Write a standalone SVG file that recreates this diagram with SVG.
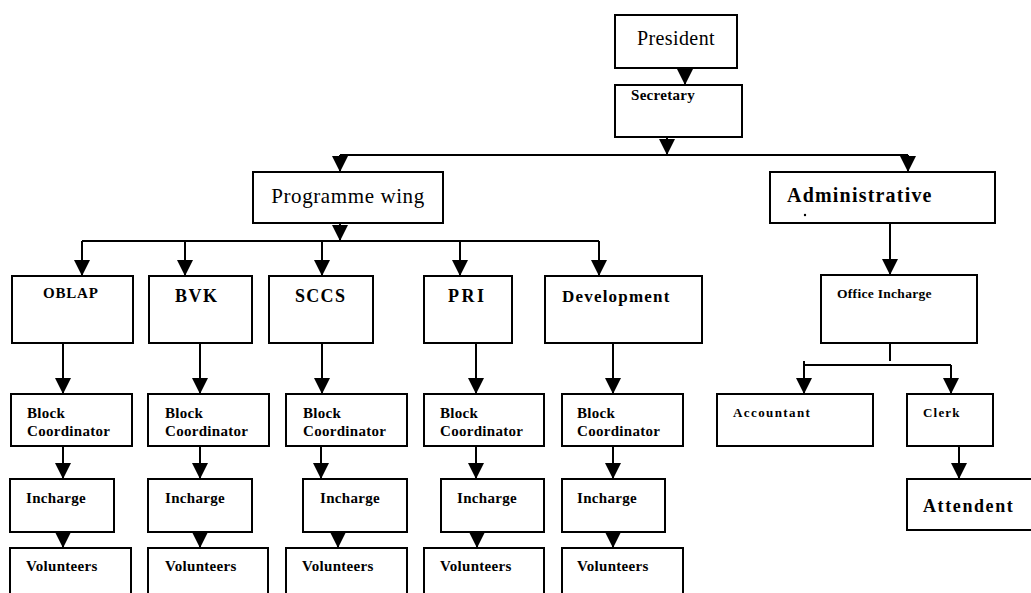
<svg xmlns="http://www.w3.org/2000/svg" width="1031" height="593" viewBox="0 0 1031 593">
<style>
.box{fill:#fff;stroke:#000;stroke-width:2}
.ln{fill:none;stroke:#000;stroke-width:2}
.ar{fill:none;stroke:#000;stroke-width:2;marker-end:url(#ah)}
.r{font-family:"Liberation Serif","Times New Roman",serif;fill:#000}
.b{font-family:"Liberation Serif","Times New Roman",serif;font-weight:bold;fill:#000;font-size:15px;letter-spacing:0.3px}
</style>
<defs>
<marker id="ah" markerUnits="userSpaceOnUse" markerWidth="17" markerHeight="17" refX="16" refY="8.5" orient="auto" viewBox="0 0 17 17">
<path d="M0,0.5 L16,8.5 L0,16.5 z" fill="#000"/>
</marker>
</defs>
<rect width="1031" height="593" fill="#fff"/>
<g id="connectors">
<path class="ar" d="M685,68 V85"/>
<path class="ar" d="M667,137 V155"/>
<path class="ln" d="M340,155 H908"/>
<path class="ar" d="M340,155 V172"/>
<path class="ar" d="M908,155 V172"/>
<path class="ar" d="M340,223 V241"/>
<path class="ln" d="M82,241 H599"/>
<path class="ar" d="M82,241 V276"/>
<path class="ar" d="M185,241 V276"/>
<path class="ar" d="M322,241 V276"/>
<path class="ar" d="M460,241 V276"/>
<path class="ar" d="M599,241 V276"/>
<path class="ar" d="M63,343 V394"/>
<path class="ar" d="M200,343 V394"/>
<path class="ar" d="M322,343 V394"/>
<path class="ar" d="M476,343 V394"/>
<path class="ar" d="M613,343 V394"/>
<path class="ar" d="M63,446 V479"/>
<path class="ar" d="M200,446 V479"/>
<path class="ar" d="M321,446 V479"/>
<path class="ar" d="M476,446 V479"/>
<path class="ar" d="M613,446 V479"/>
<path class="ar" d="M63,532 V548"/>
<path class="ar" d="M200,532 V548"/>
<path class="ar" d="M338,532 V548"/>
<path class="ar" d="M477,532 V548"/>
<path class="ar" d="M613,532 V548"/>
<path class="ar" d="M890,223 V275"/>
<path class="ln" d="M890,343 V361"/>
<path class="ln" d="M804,361 V365 H951"/>
<path class="ar" d="M804,365 V394"/>
<path class="ar" d="M951,365 V394"/>
<path class="ar" d="M959,446 V479"/>
</g>
<g id="president"><rect class="box" x="615" y="15" width="122" height="53"/><text class="r" x="676" y="45" style="font-size:20px;letter-spacing:0.4px" text-anchor="middle">President</text></g>
<g id="secretary"><rect class="box" x="615" y="85" width="127" height="52"/><text class="b" x="631" y="100">Secretary</text></g>
<g id="programme-wing"><rect class="box" x="253" y="172" width="190" height="51"/><text class="r" x="348" y="203" style="font-size:21px;letter-spacing:0.6px" text-anchor="middle">Programme wing</text></g>
<g id="administrative"><rect class="box" x="770" y="172" width="225" height="51"/><text class="b" x="787" y="202" style="font-size:20px;letter-spacing:1.2px">Administrative</text><circle cx="805" cy="215" r="1.2" fill="#000"/></g>
<g id="oblap"><rect class="box" x="12" y="276" width="121" height="67"/><text class="b" x="43" y="298" style="letter-spacing:0.8px">OBLAP</text></g>
<g id="bvk"><rect class="box" x="149" y="276" width="103" height="67"/><text class="b" x="175" y="302" style="font-size:18px;letter-spacing:1.5px">BVK</text></g>
<g id="sccs"><rect class="box" x="269" y="276" width="104" height="67"/><text class="b" x="295" y="302" style="font-size:18px;letter-spacing:1.3px">SCCS</text></g>
<g id="pri"><rect class="box" x="424" y="276" width="88" height="67"/><text class="b" x="448" y="302" style="font-size:18px;letter-spacing:2.5px">PRI</text></g>
<g id="development"><rect class="box" x="545" y="276" width="157" height="67"/><text class="b" x="562" y="302" style="font-size:17px;letter-spacing:1.2px">Development</text></g>
<g id="bc-oblap"><rect class="box" x="11" y="394" width="121" height="52"/><text class="b" x="27" y="418">Block</text><text class="b" x="27" y="436">Coordinator</text></g>
<g id="bc-bvk"><rect class="box" x="148" y="394" width="121" height="52"/><text class="b" x="165" y="418">Block</text><text class="b" x="165" y="436">Coordinator</text></g>
<g id="bc-sccs"><rect class="box" x="286" y="394" width="121" height="52"/><text class="b" x="303" y="418">Block</text><text class="b" x="303" y="436">Coordinator</text></g>
<g id="bc-pri"><rect class="box" x="424" y="394" width="120" height="52"/><text class="b" x="440" y="418">Block</text><text class="b" x="440" y="436">Coordinator</text></g>
<g id="bc-dev"><rect class="box" x="562" y="394" width="121" height="52"/><text class="b" x="577" y="418">Block</text><text class="b" x="577" y="436">Coordinator</text></g>
<g id="inc-oblap"><rect class="box" x="10" y="479" width="104" height="53"/><text class="b" x="26" y="503">Incharge</text></g>
<g id="inc-bvk"><rect class="box" x="148" y="479" width="104" height="53"/><text class="b" x="165" y="503">Incharge</text></g>
<g id="inc-sccs"><rect class="box" x="303" y="479" width="104" height="53"/><text class="b" x="320" y="503">Incharge</text></g>
<g id="inc-pri"><rect class="box" x="441" y="479" width="103" height="53"/><text class="b" x="457" y="503">Incharge</text></g>
<g id="inc-dev"><rect class="box" x="562" y="479" width="103" height="53"/><text class="b" x="577" y="503">Incharge</text></g>
<g id="vol-oblap"><rect class="box" x="10" y="548" width="121" height="60"/><text class="b" x="26" y="571">Volunteers</text></g>
<g id="vol-bvk"><rect class="box" x="148" y="548" width="120" height="60"/><text class="b" x="165" y="571">Volunteers</text></g>
<g id="vol-sccs"><rect class="box" x="286" y="548" width="121" height="60"/><text class="b" x="302" y="571">Volunteers</text></g>
<g id="vol-pri"><rect class="box" x="424" y="548" width="120" height="60"/><text class="b" x="440" y="571">Volunteers</text></g>
<g id="vol-dev"><rect class="box" x="562" y="548" width="121" height="60"/><text class="b" x="577" y="571">Volunteers</text></g>
<g id="office-incharge"><rect class="box" x="821" y="275" width="156" height="68"/><text class="b" x="837" y="298" style="font-size:13.5px">Office Incharge</text></g>
<g id="accountant"><rect class="box" x="717" y="394" width="156" height="52"/><text class="b" x="733" y="417" style="font-size:13px;letter-spacing:1.4px">Accountant</text></g>
<g id="clerk"><rect class="box" x="907" y="394" width="86" height="52"/><text class="b" x="923" y="417" style="font-size:13px;letter-spacing:1.2px">Clerk</text></g>
<g id="attendent"><rect class="box" x="907" y="479" width="140" height="51"/><text class="b" x="923" y="512" style="font-size:18px;letter-spacing:1.6px">Attendent</text></g>
</svg>
